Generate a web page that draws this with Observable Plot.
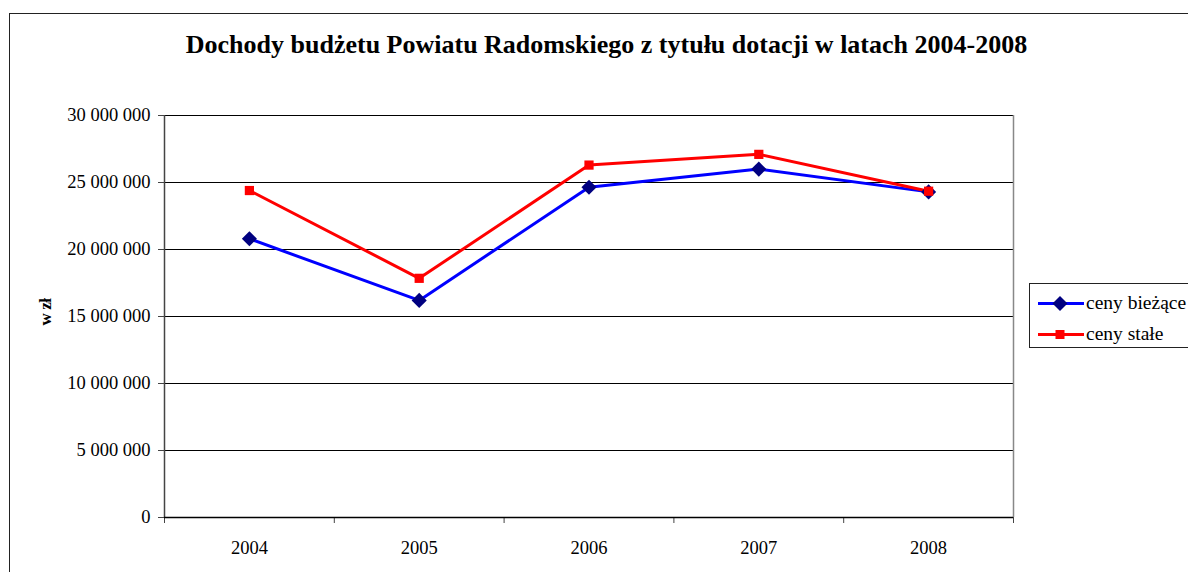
<!DOCTYPE html>
<html>
<head>
<meta charset="utf-8">
<script src="https://cdn.jsdelivr.net/npm/d3@7"></script>
<script src="https://cdn.jsdelivr.net/npm/@observablehq/plot@0.6"></script>
<style>
  html, body { margin: 0; padding: 0; background: #fff; }
  #wrap { position: relative; width: 1188px; height: 572px; overflow: hidden; background: #fff; font-family: "Liberation Serif", "Times New Roman", serif; }
  #frame { position: absolute; left: 9px; top: 13px; width: 1300px; height: 700px; border: 1.5px solid #222; box-sizing: border-box; }
  #title { position: absolute; left: 0; width: 1213px; top: 30px; text-align: center; font-weight: bold; font-size: 26px; color: #000; white-space: nowrap; }
  #ylab { position: absolute; left: 46px; top: 312px; transform: translate(-50%, -50%) rotate(-90deg); font-weight: bold; font-size: 17px; white-space: nowrap; letter-spacing: -0.5px; }
  #chart { position: absolute; left: 0; top: 0; }
  #chart svg text { font-family: "Liberation Serif", "Times New Roman", serif !important; }
  #legend { position: absolute; left: 1029px; top: 283px; width: 300px; height: 65px; border: 1px solid #222; box-sizing: border-box; background: #fff; }
  .item { position: absolute; left: 0; height: 22px; font-size: 19.5px; white-space: nowrap; }
  .item svg { position: absolute; left: 7px; top: 1px; }
  .item span { position: absolute; left: 56px; top: 0; line-height: 22px; }
</style>
</head>
<body>
<div id="wrap">
  <div id="frame"></div>
  <div id="chart"></div>
  <div id="title">Dochody budżetu Powiatu Radomskiego z tytułu dotacji w latach 2004-2008</div>
  <div id="ylab">w zł</div>
  <div id="legend"></div>
</div>
<script>
const years = [2004, 2005, 2006, 2007, 2008];
const cenyBiezace = [20800000, 16200000, 24650000, 26000000, 24300000];
const cenyStale = [24400000, 17850000, 26300000, 27100000, 24350000];
const seriesNames = ["ceny bieżące", "ceny stałe"];
const yTicks = [0, 5000000, 10000000, 15000000, 20000000, 25000000, 30000000];
const xBoundaries = [2003.5, 2004.5, 2005.5, 2006.5, 2007.5, 2008.5];

const lineColors = ["#0000FF", "#FF0000"];
const markerColors = ["#000080", "#FF0000"];
const symbols = ["diamond2", "square"];
const radii = [6.8, 5.2];

const seriesValues = [cenyBiezace, cenyStale];
const data = [];
seriesNames.forEach((s, i) => years.forEach((y, j) => data.push({series: s, year: y, value: seriesValues[i][j]})));

const fmt = d => d3.format(",")(d).replace(/,/g, " ");

const chart = Plot.plot({
  width: 1188,
  height: 572,
  marginLeft: 164,
  marginRight: 175,
  marginTop: 115,
  marginBottom: 55,
  style: { fontFamily: "'Liberation Serif', 'Times New Roman', serif", fontSize: "18.5px", background: "transparent", color: "#000" },
  x: { type: "linear", domain: [2003.5, 2008.5], axis: null },
  y: { domain: [0, 30000000], axis: null },
  marks: [
    Plot.ruleY(yTicks, { stroke: "#000", strokeWidth: 1 }),
    Plot.ruleX([2008.5], { stroke: "#888", strokeWidth: 1.5 }),
    Plot.ruleX([2003.5], { stroke: "#444", strokeWidth: 1.5 }),
    Plot.axisY({ ticks: yTicks, tickFormat: fmt, tickSize: 6, tickPadding: 8, stroke: "#444", label: null, fontSize: 18.5 }),
    Plot.axisX({ ticks: xBoundaries, tickFormat: () => "", tickSize: 6, stroke: "#444", label: null }),
    Plot.axisX({ ticks: years, tickFormat: d => String(d), tickSize: 0, tickPadding: 23, label: null, fontSize: 18.5 }),
    Plot.ruleY([0], { stroke: "#000", strokeWidth: 1.5 }),
    ...seriesNames.map((s, i) => Plot.line(data.filter(d => d.series === s), { x: "year", y: "value", stroke: lineColors[i], strokeWidth: 3 })),
    ...seriesNames.map((s, i) => Plot.dot(data.filter(d => d.series === s), { x: "year", y: "value", symbol: () => symbols[i], r: radii[i], fill: markerColors[i], stroke: "none" }))
  ]
});
document.getElementById("chart").appendChild(chart);

// legend
const legend = document.getElementById("legend");
seriesNames.forEach((s, i) => {
  const item = document.createElement("div");
  item.className = "item";
  item.style.top = (i === 0 ? 8 : 39) + "px";
  const sym = i === 0
    ? `<path d="M23 3 L30.5 10.5 L23 18 L15.5 10.5 Z" fill="${markerColors[i]}"/>`
    : `<rect x="18.5" y="6" width="9" height="9" fill="${markerColors[i]}"/>`;
  item.innerHTML = `<svg width="48" height="21"><line x1="1" x2="47" y1="10.5" y2="10.5" stroke="${lineColors[i]}" stroke-width="3"/>${sym}</svg><span>${s}</span>`;
  legend.appendChild(item);
});
</script>
</body>
</html>
